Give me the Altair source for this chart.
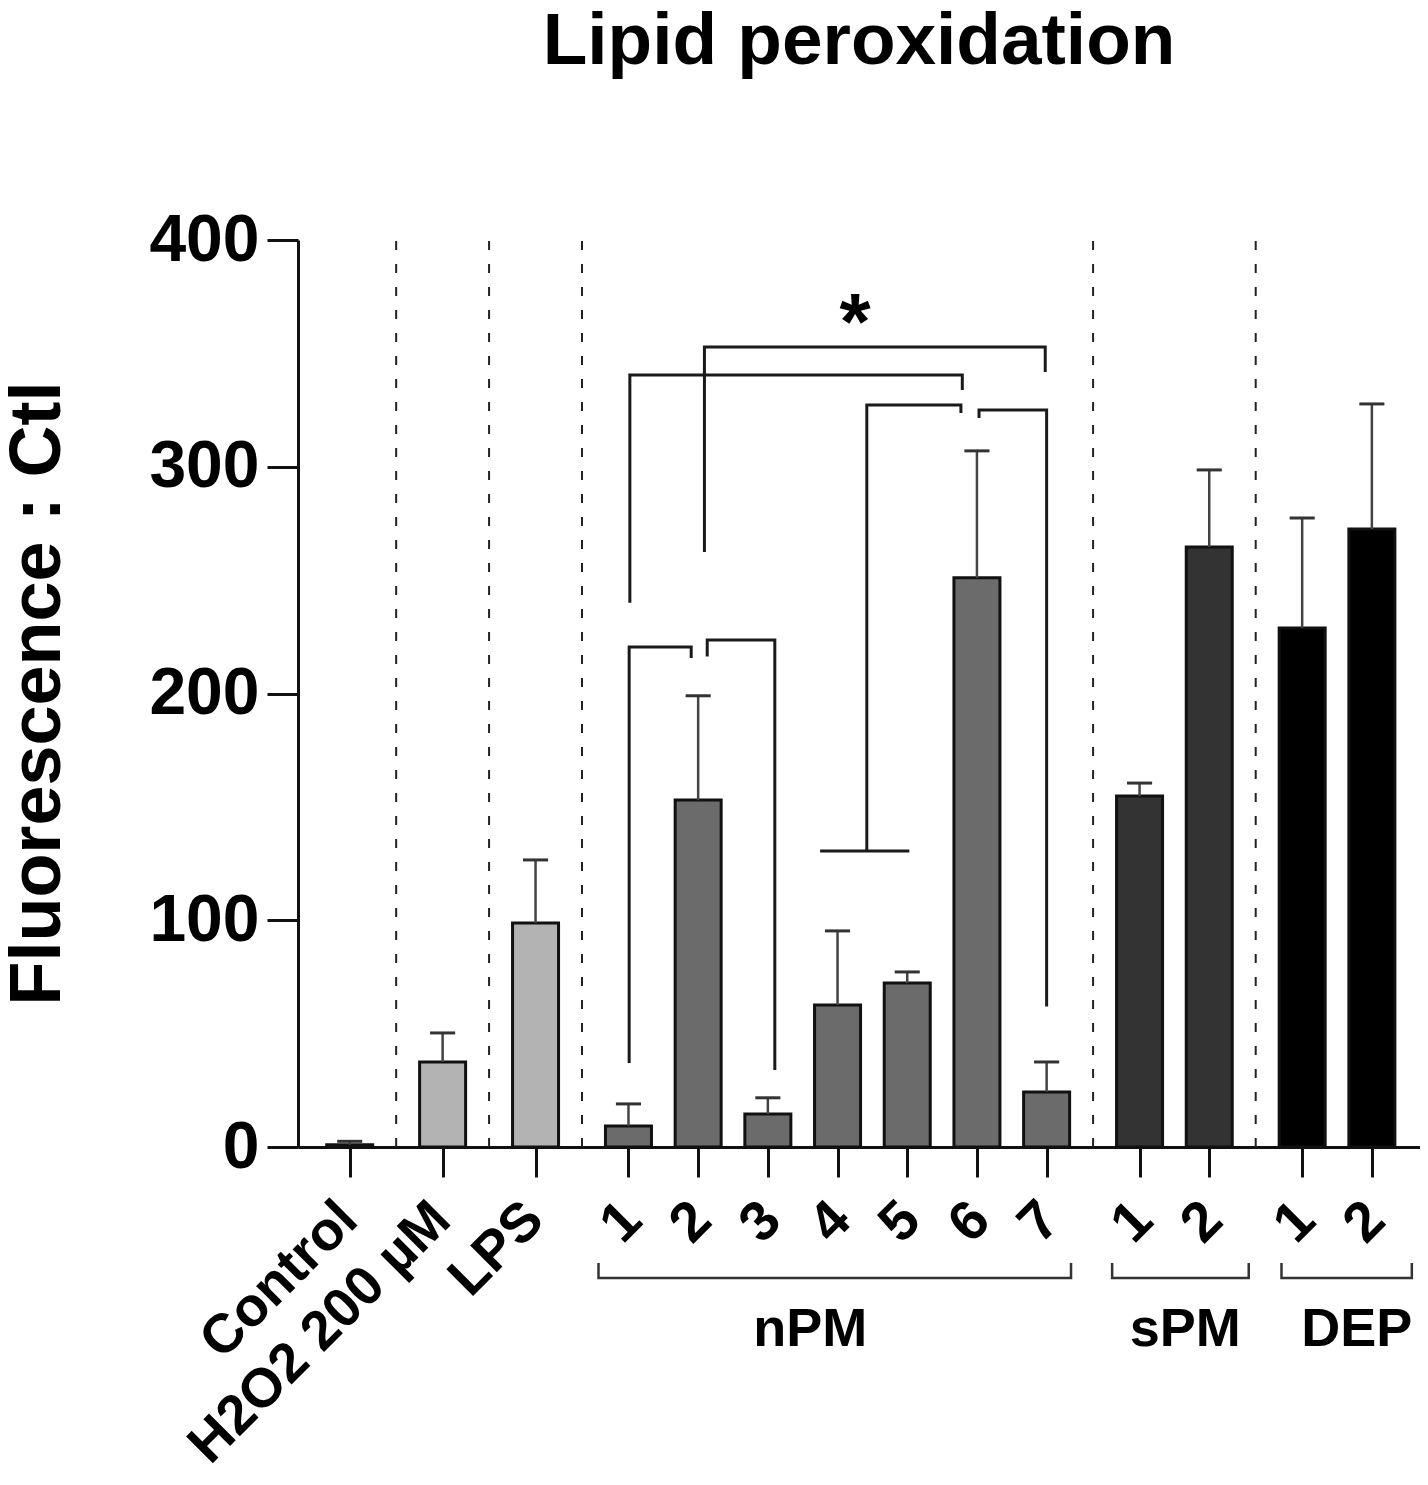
import altair as alt
import pandas as pd

# ---------------- data ----------------
labels = ["Control", "H2O2 200 µM", "LPS", "1", "2", "3", "4", "5", "6", "7", "1", "2", "1", "2"]
groups = ["Control", "H2O2", "LPS", "nPM", "nPM", "nPM", "nPM", "nPM", "nPM", "nPM", "sPM", "sPM", "DEP", "DEP"]
means = [1.0, 37.5, 98.8, 9.3, 153.0, 14.5, 62.6, 72.3, 251.0, 24.3, 154.8, 264.6, 228.9, 272.5]
upper = [2.5, 50.3, 126.6, 19.0, 199.0, 21.7, 95.3, 77.2, 307.0, 37.5, 160.5, 298.6, 277.4, 327.7]

group_order = ["Control", "H2O2", "LPS", "nPM", "sPM", "DEP"]
group_colors = ["#ffffff", "#b3b3b3", "#b3b3b3", "#6b6b6b", "#333333", "#000000"]
group_titles = ["nPM", "sPM", "DEP"]
y_ticks = [0, 100, 200, 300, 400]

FONT = "Liberation Sans"
GAP = 1 / 3  # extra space between groups, in bar steps

# position of each bar: one step per bar plus a gap between groups
pos = [i + GAP * group_order.index(g) for i, g in enumerate(groups)]
df = pd.DataFrame({"pos": pos, "label": labels, "group": groups,
                   "mean": means, "upper": upper})
df["capL"] = df["pos"] - 0.18
df["capR"] = df["pos"] + 0.18

# separators between groups
seps = []
for a, b in zip(range(len(groups) - 1), range(1, len(groups))):
    if groups[a] != groups[b]:
        seps.append((pos[a] + pos[b]) / 2)
sep_df = pd.DataFrame({"x": seps})

W = 1122
UNIT = 70.32
X_DOM = [-0.67, -0.67 + W / UNIT]
Y_DOM = [0, 400]
xs = alt.Scale(domain=X_DOM, nice=False, zero=False)
ys = alt.Scale(domain=Y_DOM, nice=False, zero=False)

X = alt.X("pos:Q", scale=xs, axis=alt.Axis(values=pos, labels=False, title=None, grid=False,
                                           tickSize=30, tickWidth=3, domainWidth=3,
                                           tickColor="#111", domainColor="#111"))

bars = alt.Chart(df).mark_bar(size=46, stroke="#111", strokeWidth=3).encode(
    x=X,
    y=alt.Y("mean:Q", scale=ys,
            axis=alt.Axis(values=y_ticks, title="Fluorescence : Ctl", grid=False,
                          tickSize=31, tickWidth=3, domainWidth=3, labelPadding=8,
                          labelFontSize=66, labelFontWeight="bold", labelFont=FONT,
                          labelColor="#000", tickColor="#111", domainColor="#111",
                          titleFontSize=72, titleFontWeight="bold", titleFont=FONT,
                          titleColor="#000", titleX=-261, titleY=453, titleAngle=270,
                          titleAlign="center", titleBaseline="middle")),
    color=alt.Color("group:N", scale=alt.Scale(domain=group_order, range=group_colors), legend=None),
)

err_line = alt.Chart(df).mark_rule(color="#444", strokeWidth=2.5).encode(
    x="pos:Q", y="mean:Q", y2="upper:Q")
err_cap = alt.Chart(df).mark_rule(color="#333", strokeWidth=3).encode(
    x="capL:Q", x2="capR:Q", y="upper:Q")

sep_rules = alt.Chart(sep_df).mark_rule(color="#222", strokeWidth=2, strokeDash=[9, 14]).encode(
    x="x:Q", y=alt.datum(0), y2=alt.datum(400))

# significance brackets (x in bar units, y in data units)
sig_paths = [
    [(4.01, 37), (4.01, 220.5), (4.9, 220.5), (4.9, 215.7)],
    [(5.13, 216.3), (5.13, 223.6), (6.1, 223.6), (6.1, 34)],
    [(4.02, 240), (4.02, 340.5), (8.79, 340.5), (8.79, 333.8)],
    [(5.09, 262.4), (5.09, 352.8), (9.98, 352.8), (9.98, 341.8)],
    [(7.42, 130.5), (7.42, 327.2), (8.77, 327.2), (8.77, 323.7)],
    [(9.03, 321.5), (9.03, 325.0), (10.0, 325.0), (10.0, 62)],
    [(6.75, 130.5), (8.03, 130.5)],
]
rows = []
for k, path in enumerate(sig_paths):
    for j, (px, py) in enumerate(path):
        rows.append({"id": k, "o": j, "x": px, "y": py})
sig_df = pd.DataFrame(rows)
sig = alt.Chart(sig_df).mark_line(color="#1a1a1a", strokeWidth=3, strokeCap="butt",
                                  strokeJoin="miter").encode(
    x="x:Q", y="y:Q", detail="id:N", order="o:Q")

star = alt.Chart(pd.DataFrame({"x": [7.25], "y": [352.0], "t": ["*"]})).mark_text(
    fontSize=80, fontWeight="bold", font=FONT, baseline="alphabetic", align="center", color="#000"
).encode(x="x:Q", y="y:Q", text="t:N")

# group brackets under the axis
gb_paths = [
    [(3.57, -51.2), (3.57, -57.8), (10.35, -57.8), (10.35, -51.2)],
    [(10.94, -51.2), (10.94, -57.8), (12.9, -57.8), (12.9, -51.2)],
    [(13.37, -51.2), (13.37, -57.8), (15.24, -57.8), (15.24, -51.2)],
]
rows = []
for k, path in enumerate(gb_paths):
    for j, (px, py) in enumerate(path):
        rows.append({"id": k, "o": j, "x": px, "y": py})
gb_df = pd.DataFrame(rows)
gb = alt.Chart(gb_df).mark_line(color="#333", strokeWidth=2.5, strokeJoin="miter").encode(
    x="x:Q", y="y:Q", detail="id:N", order="o:Q")

gt_df = pd.DataFrame({"x": [6.61, 11.99, 14.45], "y": [-80.5] * 3, "t": group_titles})
gt = alt.Chart(gt_df).mark_text(fontSize=54, fontWeight="bold", font=FONT, baseline="middle",
                                align="center", color="#000").encode(x="x:Q", y="y:Q", text="t:N")

lab_df = df.copy()
lab_df["ly"] = -27.5
big = alt.Chart(lab_df[lab_df["group"].isin(["Control", "H2O2", "LPS"])]).mark_text(
    fontSize=55, fontWeight="bold", font=FONT, angle=315, align="right", baseline="middle",
    dx=-2, color="#000").encode(x="pos:Q", y="ly:Q", text="label:N")
dig_df = lab_df[~lab_df["group"].isin(["Control", "H2O2", "LPS"])].copy()
dig_df["ly"] = -30
digits = alt.Chart(dig_df).mark_text(
    fontSize=56, fontWeight="bold", font=FONT, angle=315, align="center", baseline="middle",
    dx=-10, color="#000").encode(x="pos:Q", y="ly:Q", text="label:N")

chart = alt.layer(sep_rules, bars, err_line, err_cap, sig, star, gb, gt, big, digits).properties(
    width=W, height=907,
    title=alt.TitleParams("Lipid peroxidation", fontSize=73, fontWeight="bold", font=FONT,
                          color="#000", anchor="middle", offset=128),
    padding={"left": 290, "top": 232, "right": 0, "bottom": 330},
    autosize=alt.AutoSizeParams(type="none"),
).configure(background="white").configure_view(stroke="transparent", strokeWidth=0)

chart.save("out.html", embed_options={"renderer": "svg", "actions": False})
